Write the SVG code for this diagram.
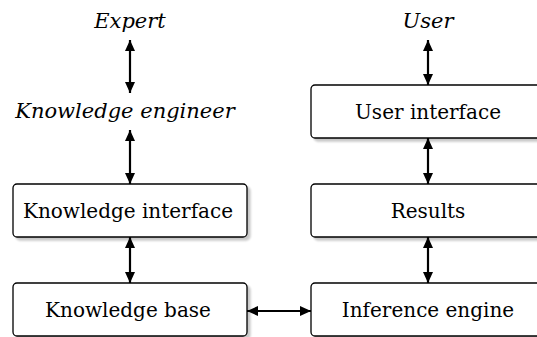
<svg xmlns="http://www.w3.org/2000/svg" width="537" height="337" viewBox="0 0 537 337">
<defs>
<marker id="ah" viewBox="0 0 11 10" refX="11" refY="5" markerWidth="11" markerHeight="10" markerUnits="userSpaceOnUse" orient="auto-start-reverse">
<path d="M0,0 L11,5 L0,10 Z" fill="#000"/>
</marker>
<filter id="sh" x="-5%" y="-10%" width="115%" height="130%">
<feGaussianBlur in="SourceAlpha" stdDeviation="1"/>
<feOffset dx="2.5" dy="2.5" result="b"/>
<feComponentTransfer><feFuncA type="linear" slope="0.22"/></feComponentTransfer>
<feMerge><feMergeNode/><feMergeNode in="SourceGraphic"/></feMerge>
</filter>
</defs>
<style>
.box{fill:#fff;stroke:#000;stroke-width:1.3;filter:url(#sh)}
.t{font-family:'DejaVu Serif',serif;font-size:20px;text-anchor:middle;fill:#000}
.i{font-style:italic;font-size:21px}
.c{stroke:#000;stroke-width:2.2;fill:none;marker-start:url(#ah);marker-end:url(#ah)}
</style>
<rect width="537" height="337" fill="#fff"/>
<g id="expert"><text class="t i" x="130" y="28">Expert</text></g>
<g id="engineer"><text class="t i" x="125" y="118">Knowledge engineer</text></g>
<g id="user"><text class="t i" x="428" y="28">User</text></g>
<g id="kinterface"><rect class="box" x="13" y="184" width="234" height="53" rx="4"/><text class="t" x="128" y="218">Knowledge interface</text></g>
<g id="kbase"><rect class="box" x="13" y="283" width="234" height="53" rx="4"/><text class="t" x="128" y="317">Knowledge base</text></g>
<g id="uinterface"><rect class="box" x="311" y="85" width="234" height="53" rx="4"/><text class="t" x="428" y="119">User interface</text></g>
<g id="results"><rect class="box" x="311" y="184" width="234" height="53" rx="4"/><text class="t" x="428" y="218">Results</text></g>
<g id="inference"><rect class="box" x="311" y="283" width="234" height="53" rx="4"/><text class="t" x="428" y="317">Inference engine</text></g>
<g id="connectors">
<line class="c" x1="130" y1="40" x2="130" y2="93"/>
<line class="c" x1="130" y1="130" x2="130" y2="184"/>
<line class="c" x1="130" y1="237" x2="130" y2="283"/>
<line class="c" x1="247" y1="311" x2="311" y2="311"/>
<line class="c" x1="428" y1="40" x2="428" y2="85"/>
<line class="c" x1="428" y1="138" x2="428" y2="184"/>
<line class="c" x1="428" y1="237" x2="428" y2="283"/>
</g>
</svg>
